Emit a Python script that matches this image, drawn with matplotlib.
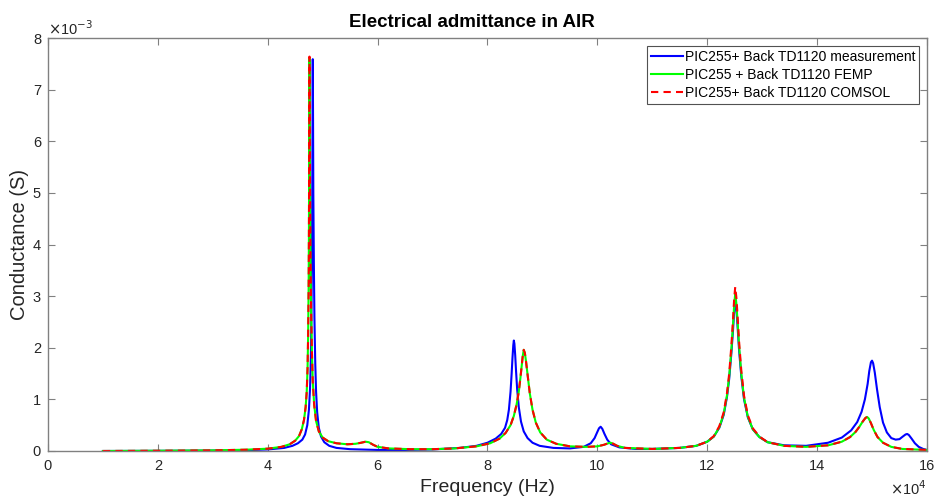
import numpy as np
import matplotlib
matplotlib.use('Agg')
import matplotlib.pyplot as plt
from matplotlib.ticker import FuncFormatter

plt.rcParams['font.family'] = ['Liberation Sans', 'DejaVu Sans']

# (frequency in 1e4 Hz, conductance in 1e-3 S)
measurement = [
    (1.0, 0.0), (2.0, 0.003), (3.0, 0.008), (3.6, 0.015), (4.0, 0.03), (4.3, 0.06),
    (4.45, 0.1), (4.55, 0.15), (4.63, 0.22), (4.68, 0.32), (4.72, 0.5), (4.75, 0.8),
    (4.77, 1.2), (4.785, 1.8), (4.795, 2.6), (4.805, 3.8), (4.81, 4.8), (4.815, 6.2),
    (4.82, 7.59), (4.825, 6.4), (4.83, 5.0), (4.84, 3.6), (4.85, 2.6), (4.865, 1.7),
    (4.88, 1.15), (4.9, 0.75), (4.93, 0.45), (4.97, 0.28), (5.03, 0.17), (5.12, 0.1),
    (5.25, 0.06), (5.5, 0.035), (6.0, 0.02), (6.5, 0.02), (7.0, 0.03), (7.5, 0.06),
    (7.8, 0.1), (8.0, 0.16), (8.15, 0.24), (8.25, 0.33), (8.32, 0.45), (8.36, 0.6),
    (8.39, 0.8), (8.42, 1.15), (8.44, 1.5), (8.455, 1.8), (8.47, 2.05), (8.48, 2.14),
    (8.49, 2.08), (8.505, 1.85), (8.52, 1.55), (8.54, 1.2), (8.57, 0.85), (8.61, 0.57),
    (8.66, 0.38), (8.73, 0.25), (8.82, 0.16), (8.95, 0.1), (9.2, 0.06), (9.5, 0.05),
    (9.75, 0.08), (9.88, 0.15), (9.95, 0.25), (10.0, 0.37), (10.03, 0.44), (10.06, 0.47),
    (10.09, 0.43), (10.13, 0.33), (10.18, 0.22), (10.25, 0.13), (10.4, 0.07), (10.7, 0.04),
    (11.0, 0.04), (11.5, 0.06), (11.8, 0.1), (12.0, 0.18), (12.12, 0.28), (12.22, 0.45),
    (12.3, 0.7), (12.36, 1.05), (12.4, 1.4), (12.44, 1.9), (12.47, 2.35), (12.49, 2.7),
    (12.51, 2.93), (12.53, 2.75), (12.55, 2.45), (12.58, 1.95), (12.62, 1.45), (12.67, 1.0),
    (12.74, 0.65), (12.83, 0.42), (12.95, 0.27), (13.1, 0.17), (13.4, 0.11), (13.8, 0.1),
    (14.2, 0.16), (14.45, 0.26), (14.62, 0.4), (14.73, 0.56), (14.81, 0.76), (14.87, 1.0),
    (14.92, 1.3), (14.95, 1.55), (14.98, 1.72), (15.0, 1.75), (15.02, 1.7), (15.05, 1.52),
    (15.09, 1.2), (15.14, 0.85), (15.2, 0.55), (15.27, 0.36), (15.35, 0.25), (15.43, 0.22),
    (15.5, 0.23), (15.56, 0.28), (15.61, 0.32), (15.64, 0.33), (15.67, 0.31), (15.72, 0.24),
    (15.78, 0.15), (15.85, 0.08), (15.93, 0.04), (16.0, 0.02),
]

femp = [
    (1.0, 0.0), (2.0, 0.005), (3.0, 0.012), (3.6, 0.025), (4.0, 0.045), (4.25, 0.08),
    (4.4, 0.13), (4.5, 0.2), (4.57, 0.29), (4.62, 0.42), (4.66, 0.6), (4.69, 0.85),
    (4.71, 1.15), (4.725, 1.6), (4.735, 2.2), (4.745, 3.2), (4.75, 4.2), (4.755, 5.8),
    (4.76, 7.6), (4.765, 6.2), (4.77, 5.0), (4.78, 3.6), (4.79, 2.7), (4.805, 1.9),
    (4.82, 1.35), (4.845, 0.9), (4.88, 0.58), (4.93, 0.38), (5.0, 0.26), (5.1, 0.19),
    (5.25, 0.15), (5.45, 0.13), (5.6, 0.14), (5.7, 0.16), (5.78, 0.18), (5.84, 0.17),
    (5.92, 0.12), (6.0, 0.08), (6.2, 0.05), (6.6, 0.035), (7.0, 0.035), (7.4, 0.05),
    (7.8, 0.09), (8.05, 0.15), (8.22, 0.24), (8.33, 0.35), (8.42, 0.5), (8.48, 0.68),
    (8.53, 0.9), (8.57, 1.15), (8.6, 1.42), (8.62, 1.62), (8.64, 1.82), (8.66, 1.96),
    (8.68, 1.9), (8.7, 1.75), (8.73, 1.48), (8.77, 1.12), (8.82, 0.8), (8.88, 0.55),
    (8.96, 0.36), (9.08, 0.22), (9.25, 0.14), (9.5, 0.09), (9.8, 0.08), (10.0, 0.09),
    (10.12, 0.12), (10.2, 0.15), (10.24, 0.16), (10.29, 0.14), (10.36, 0.1), (10.5, 0.06),
    (11.0, 0.04), (11.5, 0.06), (11.8, 0.1), (12.0, 0.18), (12.12, 0.28), (12.22, 0.46),
    (12.3, 0.72), (12.36, 1.08), (12.4, 1.45), (12.44, 1.97), (12.47, 2.45), (12.49, 2.82),
    (12.51, 3.05), (12.53, 2.86), (12.55, 2.55), (12.58, 2.03), (12.62, 1.5), (12.67, 1.03),
    (12.74, 0.66), (12.83, 0.42), (12.95, 0.27), (13.1, 0.17), (13.4, 0.1), (13.8, 0.08),
    (14.2, 0.11), (14.45, 0.18), (14.6, 0.27), (14.7, 0.37), (14.77, 0.47), (14.83, 0.57),
    (14.88, 0.64), (14.91, 0.66), (14.94, 0.63), (14.98, 0.54), (15.03, 0.41), (15.1, 0.27),
    (15.2, 0.16), (15.35, 0.08), (15.55, 0.04), (16.0, 0.02),
]

comsol = [
    (1.0, 0.0), (2.0, 0.005), (3.0, 0.012), (3.6, 0.025), (4.0, 0.045), (4.25, 0.08),
    (4.4, 0.13), (4.5, 0.2), (4.57, 0.29), (4.62, 0.42), (4.66, 0.6), (4.69, 0.85),
    (4.71, 1.15), (4.725, 1.6), (4.735, 2.2), (4.745, 3.2), (4.75, 4.25), (4.755, 5.85),
    (4.76, 7.64), (4.765, 6.25), (4.77, 5.05), (4.78, 3.6), (4.79, 2.7), (4.805, 1.9),
    (4.82, 1.35), (4.845, 0.9), (4.88, 0.58), (4.93, 0.38), (5.0, 0.26), (5.1, 0.19),
    (5.25, 0.15), (5.45, 0.13), (5.6, 0.14), (5.7, 0.16), (5.78, 0.18), (5.84, 0.17),
    (5.92, 0.12), (6.0, 0.08), (6.2, 0.05), (6.6, 0.035), (7.0, 0.035), (7.4, 0.05),
    (7.8, 0.09), (8.05, 0.15), (8.22, 0.24), (8.33, 0.35), (8.42, 0.5), (8.48, 0.68),
    (8.53, 0.9), (8.57, 1.15), (8.6, 1.42), (8.62, 1.62), (8.64, 1.82), (8.66, 1.96),
    (8.68, 1.9), (8.7, 1.75), (8.73, 1.48), (8.77, 1.12), (8.82, 0.8), (8.88, 0.55),
    (8.96, 0.36), (9.08, 0.22), (9.25, 0.14), (9.5, 0.09), (9.8, 0.08), (10.0, 0.09),
    (10.12, 0.12), (10.2, 0.15), (10.24, 0.16), (10.29, 0.14), (10.36, 0.1), (10.5, 0.06),
    (11.0, 0.04), (11.5, 0.06), (11.8, 0.1), (12.0, 0.18), (12.12, 0.29), (12.22, 0.48),
    (12.3, 0.75), (12.36, 1.12), (12.4, 1.5), (12.44, 2.05), (12.47, 2.55), (12.49, 2.94),
    (12.51, 3.18), (12.53, 2.98), (12.55, 2.66), (12.58, 2.12), (12.62, 1.56), (12.67, 1.07),
    (12.74, 0.69), (12.83, 0.44), (12.95, 0.28), (13.1, 0.17), (13.4, 0.1), (13.8, 0.08),
    (14.2, 0.11), (14.45, 0.18), (14.6, 0.27), (14.7, 0.37), (14.77, 0.47), (14.83, 0.57),
    (14.88, 0.64), (14.91, 0.66), (14.94, 0.63), (14.98, 0.54), (15.03, 0.41), (15.1, 0.27),
    (15.2, 0.16), (15.35, 0.08), (15.55, 0.04), (16.0, 0.02),
]

labels = ['PIC255+ Back TD1120 measurement',
          'PIC255 + Back TD1120 FEMP',
          'PIC255+ Back TD1120 COMSOL']

fig = plt.figure(figsize=(9.37, 4.99), dpi=100)
ax = fig.add_axes([0.0512, 0.0962, 0.9381, 0.8276])


def draw(series, **kw):
    f, g = np.array(series).T
    ax.plot(f * 1e4, g * 1e-3, **kw)


draw(measurement, color='#0000ff', lw=1.5, label=labels[0])
draw(femp, color='#00ff00', lw=1.5, label=labels[1])
draw(comsol, color='#ff0000', lw=1.5, ls=(0, (3.5, 2.5)), label=labels[2])

ax.set_xlim(0, 16e4)
ax.set_ylim(0, 8e-3)
ax.set_xticks(np.arange(0, 16.1e4, 2e4))
ax.set_yticks(np.arange(0, 8.1e-3, 1e-3))
ax.xaxis.set_major_formatter(FuncFormatter(lambda v, p: f'{v / 1e4:g}'))
ax.yaxis.set_major_formatter(FuncFormatter(lambda v, p: f'{v / 1e-3:g}'))

axis_col = '#808080'
text_col = '#262626'
for spine in ax.spines.values():
    spine.set_edgecolor(axis_col)
    spine.set_linewidth(1.0)
ax.tick_params(direction='in', top=True, right=True, length=5, color=axis_col,
               labelcolor=text_col, labelsize=10.5)
ax.tick_params(axis='x', pad=6)
ax.tick_params(axis='y', pad=5)

# MATLAB style exponent labels
ax.text(0.0, 1.0, r'$\times$10$^{-3}$', transform=ax.transAxes, ha='left', va='bottom',
        fontsize=10.5, color=text_col)
ax.text(1.0, -0.09, r'$\times$10$^{4}$', transform=ax.transAxes, ha='right', va='center',
        fontsize=10.5, color=text_col)

fig.text(0.504, 0.955, 'Electrical admittance in AIR', ha='center', va='center',
         fontsize=13.5, fontweight='bold', color='black')
ax.set_xlabel('Frequency (Hz)', fontsize=14, color=text_col, labelpad=4)
ax.set_ylabel('Conductance (S)', fontsize=14.5, color=text_col, labelpad=3)

leg = ax.legend(loc='upper right', fontsize=10, frameon=True, fancybox=False,
                edgecolor='#262626', handlelength=2.3, handletextpad=0.1,
                borderpad=0.3, labelspacing=0.3, borderaxespad=0.55)
leg.get_frame().set_linewidth(0.8)

fig.savefig('out.png', dpi=100)
